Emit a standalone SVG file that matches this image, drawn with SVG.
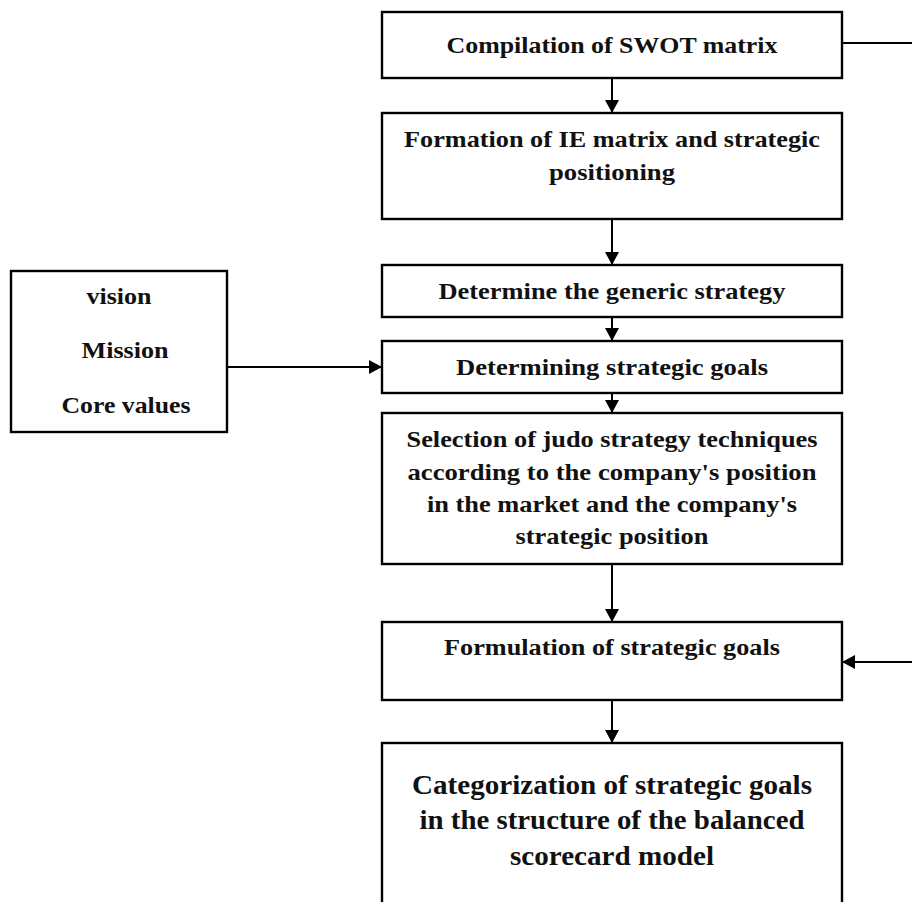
<svg xmlns="http://www.w3.org/2000/svg" width="912" height="902" viewBox="0 0 912 902">
<style>
.box{fill:#fff;stroke:#000;stroke-width:2.4}
.t{font-family:"Liberation Serif","Times New Roman",serif;font-weight:bold;font-size:23px;fill:#111;text-anchor:middle}
.big{font-size:27px}
.c{stroke:#000;stroke-width:2;fill:none}
</style>
<defs>
<marker id="ah" viewBox="0 0 13 14" refX="13" refY="7" markerWidth="13" markerHeight="14" markerUnits="userSpaceOnUse" orient="auto">
<path d="M0,0 L13,7 L0,14 z" fill="#000"/>
</marker>
</defs>
<rect width="912" height="902" fill="#fff"/>
<g id="swot"><rect class="box" x="382" y="12" width="460" height="66"/><text class="t" x="612" y="53" textLength="331" lengthAdjust="spacingAndGlyphs">Compilation of SWOT matrix</text></g>
<g id="ie"><rect class="box" x="382" y="113" width="460" height="106"/><text class="t" x="612" y="147" textLength="416" lengthAdjust="spacingAndGlyphs">Formation of IE matrix and strategic</text><text class="t" x="612" y="180" textLength="126" lengthAdjust="spacingAndGlyphs">positioning</text></g>
<g id="generic"><rect class="box" x="382" y="265" width="460" height="52"/><text class="t" x="612" y="299" textLength="347" lengthAdjust="spacingAndGlyphs">Determine the generic strategy</text></g>
<g id="goals"><rect class="box" x="382" y="341" width="460" height="52"/><text class="t" x="612" y="375" textLength="312" lengthAdjust="spacingAndGlyphs">Determining strategic goals</text></g>
<g id="vision"><rect class="box" x="11" y="271" width="216" height="161"/><text class="t" x="119" y="304" textLength="65" lengthAdjust="spacingAndGlyphs">vision</text><text class="t" x="125" y="358" textLength="87" lengthAdjust="spacingAndGlyphs">Mission</text><text class="t" x="126" y="413" textLength="129" lengthAdjust="spacingAndGlyphs">Core values</text></g>
<g id="judo"><rect class="box" x="382" y="413" width="460" height="151"/><text class="t" x="612" y="447" textLength="411" lengthAdjust="spacingAndGlyphs">Selection of judo strategy techniques</text><text class="t" x="612" y="480" textLength="409" lengthAdjust="spacingAndGlyphs">according to the company's position</text><text class="t" x="612" y="512" textLength="370" lengthAdjust="spacingAndGlyphs">in the market and the company's</text><text class="t" x="612" y="544" textLength="193" lengthAdjust="spacingAndGlyphs">strategic position</text></g>
<g id="formulation"><rect class="box" x="382" y="622" width="460" height="78"/><text class="t" x="612" y="655" textLength="336" lengthAdjust="spacingAndGlyphs">Formulation of strategic goals</text></g>
<g id="categorization"><rect class="box" x="382" y="743" width="460" height="164"/><text class="t big" x="612" y="794" textLength="400" lengthAdjust="spacingAndGlyphs">Categorization of strategic goals</text><text class="t big" x="612" y="829" textLength="385" lengthAdjust="spacingAndGlyphs">in the structure of the balanced</text><text class="t big" x="612" y="865" textLength="204" lengthAdjust="spacingAndGlyphs">scorecard model</text></g>
<g id="connectors">
<path class="c" d="M612,78 V113" marker-end="url(#ah)"/>
<path class="c" d="M612,219 V265" marker-end="url(#ah)"/>
<path class="c" d="M612,317 V341" marker-end="url(#ah)"/>
<path class="c" d="M612,393 V413" marker-end="url(#ah)"/>
<path class="c" d="M612,564 V622" marker-end="url(#ah)"/>
<path class="c" d="M612,700 V743" marker-end="url(#ah)"/>
<path class="c" d="M227,367 H382" marker-end="url(#ah)"/>
<path class="c" d="M842,43 H912"/>
<path class="c" d="M912,662 H842" marker-end="url(#ah)"/>
</g>
</svg>
